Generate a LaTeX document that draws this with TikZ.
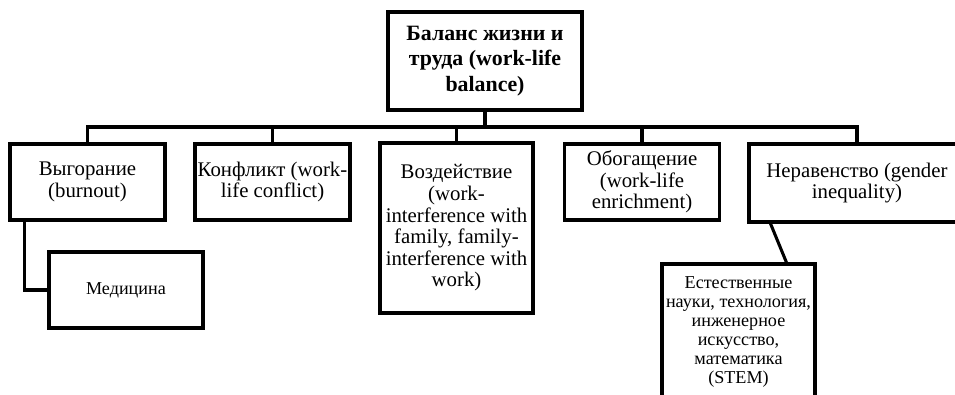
\documentclass[tikz,border=0pt]{standalone}
\usepackage{fontspec}
\setmainfont{Liberation Serif}
\usepackage{tikz}
\usetikzlibrary{calc}

\begin{document}
\begin{tikzpicture}[
            x=0.75pt, y=-0.75pt,
            box/.style={rectangle, draw, line width=2.3pt, align=center, inner sep=0pt,
                        font=\fontsize{15.6}{16.2}\selectfont},
            box_top/.style={box, font=\fontsize{16.4}{18.9}\selectfont\bfseries,
                        minimum width=145.5pt, minimum height=73.5pt},
            box_mid/.style={box, minimum width=116.25pt, minimum height=57pt},
            box_low/.style={box, font=\fontsize{13.6}{14.2}\selectfont},
            link/.style={line width=2.3pt}
        ]

    \useasboundingbox (0,0) rectangle (955,394);
    \clip (0,0) rectangle (955,394);

    \node[box_top] (root) at (485,61) {Баланс жизни и\\труда (work-life\\balance)};

    \node[box_mid] (burnout)    at (87.5,182)  {Выгорание\\(burnout)};
    \node[box_mid] (conflict)   at (272.5,182) {Конфликт (work-\\life conflict)};
    \node[box, minimum width=114.75pt, minimum height=127.5pt]
                   (interference) at (456.5,228)
                   {Воздействие\\(work-\\interference with\\family, family-\\interference with\\work)};
    \node[box_mid] (enrichment) at (642,182)   {Обогащение\\(work-life\\enrichment)};
    \node[box, minimum width=162pt, minimum height=58.5pt]
                   (inequality) at (857,183)   {Неравенство (gender\\inequality)};

    \node[box_low, minimum width=115.5pt, minimum height=57pt]
                   (medicine) at (126,290) {Медицина};
    \node[box_low, minimum width=114.75pt, minimum height=102pt]
                   (stem) at (738.5,332)
                   {Естественные\\науки, технология,\\инженерное\\искусство,\\математика\\(STEM)};

    \coordinate (bar) at (485,127);
    \foreach \child in {burnout, conflict, interference, enrichment, inequality}
        \draw[link] (root.south) -- (root.south |- bar) -| (\child.north);

    \draw[link] ($(burnout.south west)+(16,0)$) |- (medicine.west);
    \draw[link] ($(inequality.south west)+(23,0)$) -- ($(stem.north west)+(126,0)$);

        \end{tikzpicture}
\end{document}
